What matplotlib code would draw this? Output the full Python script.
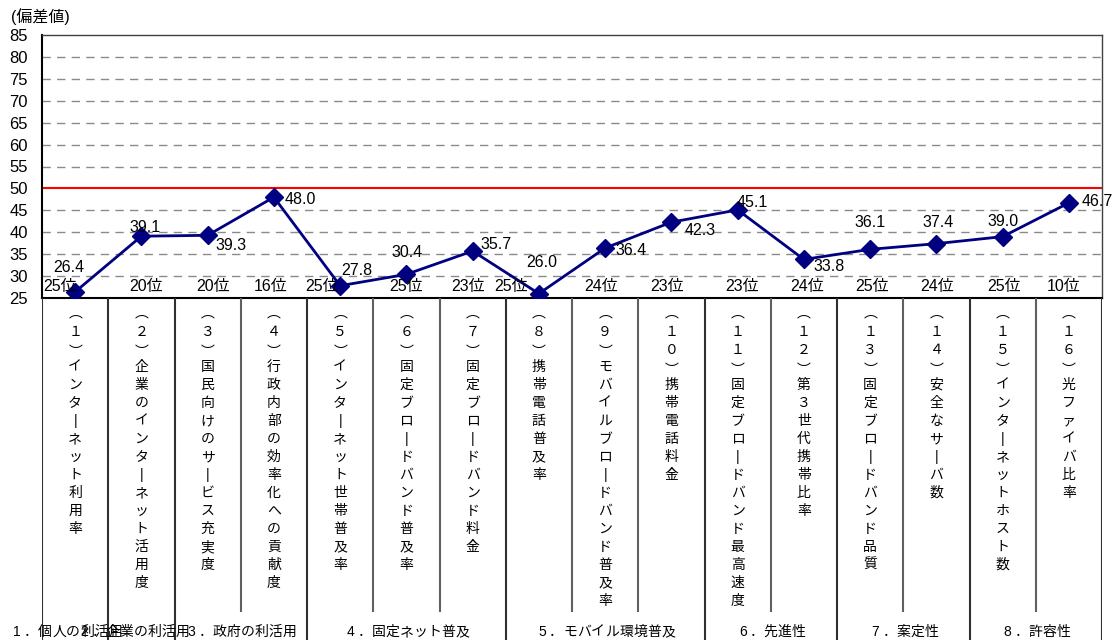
import matplotlib
matplotlib.use("Agg")
from matplotlib import pyplot as plt
import numpy as np

plt.rcParams['font.family'] = ['Liberation Sans', 'Noto Sans CJK JP']

# deviation scores for each indicator (1..16) and their rank
scores = [26.4, 39.1, 39.3, 48.0, 27.8, 30.4, 35.7, 26.0,
          36.4, 42.3, 45.1, 33.8, 36.1, 37.4, 39.0, 46.7]
ranks = [25, 20, 20, 16, 25, 25, 23, 25, 24, 23, 23, 24, 25, 24, 25, 10]

indicators = [
    "インターネット利用率",
    "企業のインターネット活用度",
    "国民向けのサービス充実度",
    "行政内部の効率化への貢献度",
    "インターネット世帯普及率",
    "固定ブロードバンド普及率",
    "固定ブロードバンド料金",
    "携帯電話普及率",
    "モバイルブロードバンド普及率",
    "携帯電話料金",
    "固定ブロードバンド最高速度",
    "第３世代携帯比率",
    "固定ブロードバンド品質",
    "安全なサーバ数",
    "インターネットホスト数",
    "光ファイバ比率",
]

groups = ["1．個人の利活用", "2．企業の利活用", "3．政府の利活用", "4．固定ネット普及",
          "5．モバイル環境普及", "6．先進性", "7．案定性", "8．許容性"]
group_sizes = [1, 1, 2, 3, 3, 2, 2, 2]

# label placement (pixels)
value_offsets = [(-6, 24), (4, 9), (23, -10), (26, -2), (17, 15), (1, 22), (23, 7), (3, 31),
                 (26, -2), (29, -8), (15, 7), (25, -7), (0, 27), (2, 21), (0, 15), (28, 1)]
rank_dx = [-15, 5, 5, -3, -18, 0, -5, -28, -4, -4, 4, 3, 2, 1, 1, -5]
group_dx = [-9, -8, 0, 0, 0, 0, 0, 0]

W, H = 1113, 640
left, right, top, bottom = 42, 1102, 35, 298

fig = plt.figure(figsize=(W / 100, H / 100), dpi=100)
ax = fig.add_axes([left / W, (H - bottom) / H, (right - left) / W, (bottom - top) / H])

x = np.arange(1, len(scores) + 1)
n = len(scores)

ax.set_xlim(0.5, n + 0.5)
ax.set_ylim(25, 85)
ax.set_yticks(range(25, 90, 5))
ax.set_xticks([])
ax.tick_params(axis='y', length=0, pad=10, labelsize=12)

for s in ['left', 'bottom']:
    ax.spines[s].set_color('black')
    ax.spines[s].set_linewidth(1.5)
for s in ['top', 'right']:
    ax.spines[s].set_color('#404040')
    ax.spines[s].set_linewidth(1.0)

# dashed grid, red line at 50
grid_vals = [v for v in range(30, 85, 5) if v != 50]
ax.hlines(grid_vals, 0.5, n + 0.5, colors='#8a8a8a', linewidth=1.0, linestyles=(0, (6, 4.5)))
ax.axhline(50, color='red', linewidth=1.5)

ax.plot(x, scores, color='#000080', linewidth=2.0, marker='D', markersize=9,
        markerfacecolor='#000080', markeredgecolor='#000080', zorder=5)

for xi, v, (dx, dy) in zip(x, scores, value_offsets):
    ax.annotate(f"{v:.1f}", xy=(xi, v), xytext=(dx, dy), textcoords='offset pixels',
                ha='center', va='center', fontsize=11.5, zorder=6)

for xi, r, dx in zip(x, ranks, rank_dx):
    ax.annotate(f"{r}位", xy=(xi, 25), xytext=(dx, 11), textcoords='offset pixels',
                ha='center', va='center', fontsize=11.5, zorder=6)

fig.text(11 / W, 1 - 17 / H, "(偏差値)", ha='left', va='center', fontsize=11.5)

# table of indicator names under the chart
tab = fig.add_axes([left / W, 0, (right - left) / W, (H - bottom) / H])
tab.set_xlim(0.5, n + 0.5)
tab.set_ylim(H - bottom, 0)
tab.axis('off')

edges = np.cumsum([0] + group_sizes) + 0.5
for i in range(n + 1):
    xe = i + 0.5
    long_line = xe in edges
    tab.vlines(xe, 0, H - bottom if long_line else 314,
               colors='#303030' if long_line else '#606060', linewidth=1.5)

full = str.maketrans("0123456789", "０１２３４５６７８９")


def put(xi, y, ch, **kw):
    tab.text(xi, y, ch, ha='center', va='center', fontsize=10, **kw)


for i, name in enumerate(indicators):
    xi = i + 1
    y = 22
    # vertical-form brackets around the number (glyphs sit at the cell edge)
    put(xi, y - 7, "︵", family=['Noto Sans CJK JP'])
    y += 12
    digits = str(i + 1).translate(full)
    for k, d in enumerate(digits):
        if k:
            y += 18
        put(xi, y, d)
    y += 13
    put(xi, y + 7, "︶", family=['Noto Sans CJK JP'])
    y += 22
    for k, ch in enumerate(name):
        if k:
            y += 18
        if ch == "ー":
            put(xi, y, "|")
        else:
            put(xi, y, ch)

# group captions with widened character spacing
step = 14
for g, (label, dx) in enumerate(zip(groups, group_dx)):
    xc = (edges[g] + edges[g + 1]) / 2
    w = step * len(label)
    for k, ch in enumerate(label):
        off = dx - w / 2 + step / 2 + k * step
        tab.annotate(ch, xy=(xc, 334), xytext=(off, 0), textcoords='offset pixels',
                     ha='center', va='center', fontsize=10)

fig.savefig("out.png", dpi=100)
